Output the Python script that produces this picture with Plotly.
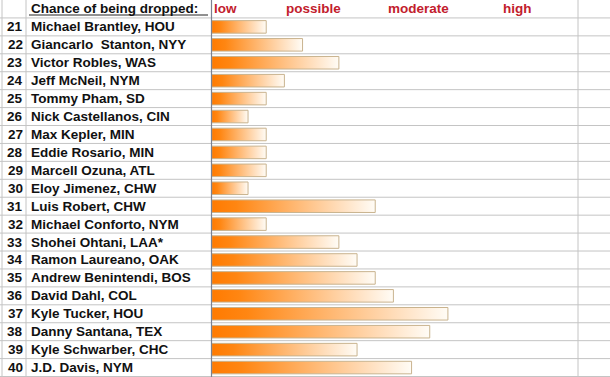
import plotly.graph_objects as go

# ---- data ----
ranks = list(range(21, 41))
players = [
    "Michael Brantley, HOU", "Giancarlo  Stanton, NYY", "Victor Robles, WAS",
    "Jeff McNeil, NYM", "Tommy Pham, SD", "Nick Castellanos, CIN",
    "Max Kepler, MIN", "Eddie Rosario, MIN", "Marcell Ozuna, ATL",
    "Eloy Jimenez, CHW", "Luis Robert, CHW", "Michael Conforto, NYM",
    "Shohei Ohtani, LAA*", "Ramon Laureano, OAK", "Andrew Benintendi, BOS",
    "David Dahl, COL", "Kyle Tucker, HOU", "Danny Santana, TEX",
    "Kyle Schwarber, CHC", "J.D. Davis, NYM",
]
drop_chance = [3, 5, 7, 4, 3, 2, 3, 3, 3, 2, 9, 3, 7, 8, 9, 10, 13, 12, 8, 11]
scale_labels = ["low", "possible", "moderate", "high"]
scale_values = [0, 4, 9.6, 15.9]
header = "Chance of being dropped:"

# ---- geometry / style ----
W, H = 610, 377
ROW = 17.93            # px per row
UNIT = 18.17           # px per value unit
X0 = 211.7             # px where value 0 sits
FONT = "Liberation Sans, Arial, sans-serif"
FS = 13.5
GRID = "#c4c4c4"
RED = "#c2202c"

def px_x(p):
    return p / W

def px_to_y(p):
    return p / ROW - 0.5

fig = go.Figure()

half = 0.35
for i, v in enumerate(drop_chance, start=1):
    fig.add_trace(go.Scatter(
        x=[0, v, v, 0, 0],
        y=[i - half, i - half, i + half, i + half, i - half],
        mode="lines", fill="toself",
        fillgradient=dict(type="horizontal",
                          colorscale=[[0, "#ff7a00"], [0.15, "#ff8612"], [1, "#fffcf6"]]),
        line=dict(color="#c9b38e", width=1),
        hoverinfo="skip", showlegend=False,
    ))

shapes = []
n_rows = len(players) + 1
for k in range(n_rows):
    shapes.append(dict(type="line", xref="paper", yref="y", x0=0, x1=1,
                       y0=k + 0.5, y1=k + 0.5, line=dict(color=GRID, width=1), layer="below"))
for p in (2, 26, 578):
    shapes.append(dict(type="line", xref="paper", yref="paper", x0=px_x(p), x1=px_x(p),
                       y0=0, y1=1, line=dict(color=GRID, width=1), layer="below"))
shapes.append(dict(type="line", xref="paper", yref="paper", x0=px_x(211.5), x1=px_x(211.5),
                   y0=0, y1=1, line=dict(color="#7b8190", width=1.2), layer="above"))
# underline of header
shapes.append(dict(type="line", xref="paper", yref="y", x0=px_x(29), x1=px_x(208),
                   y0=px_to_y(15), y1=px_to_y(15), line=dict(color="#222", width=1)))

ann = []
font = dict(family=FONT, size=FS, color="#111", weight="bold")
for i, (r, name) in enumerate(zip(ranks, players), start=1):
    ann.append(dict(x=px_x(25), y=i, xref="paper", yref="y", text=str(r),
                    xanchor="right", yanchor="middle", showarrow=False, font=font))
    ann.append(dict(x=px_x(29), y=i, xref="paper", yref="y", text=name,
                    xanchor="left", yanchor="middle", showarrow=False, font=font))
ann.append(dict(x=px_x(29), y=0, xref="paper", yref="y", text=header,
                xanchor="left", yanchor="middle", showarrow=False, font=font))
for lab, val in zip(scale_labels, scale_values):
    ann.append(dict(x=val, y=0, xref="x", yref="y", text=lab, xanchor="left",
                    yanchor="middle", showarrow=False,
                    font=dict(family=FONT, size=FS, color=RED, weight="bold")))

fig.update_layout(
    width=W, height=H, margin=dict(l=0, r=0, t=0, b=0),
    paper_bgcolor="white", plot_bgcolor="white",
    xaxis=dict(visible=False, range=[-X0 / UNIT, (W - X0) / UNIT], fixedrange=True),
    yaxis=dict(visible=False, range=[H / ROW - 0.5, -0.5], fixedrange=True),
    shapes=shapes, annotations=ann, showlegend=False,
)
fig.write_html("out.html", config={"displayModeBar": False},
               post_script="document.body.style.margin='0';document.body.style.overflow='hidden';")
